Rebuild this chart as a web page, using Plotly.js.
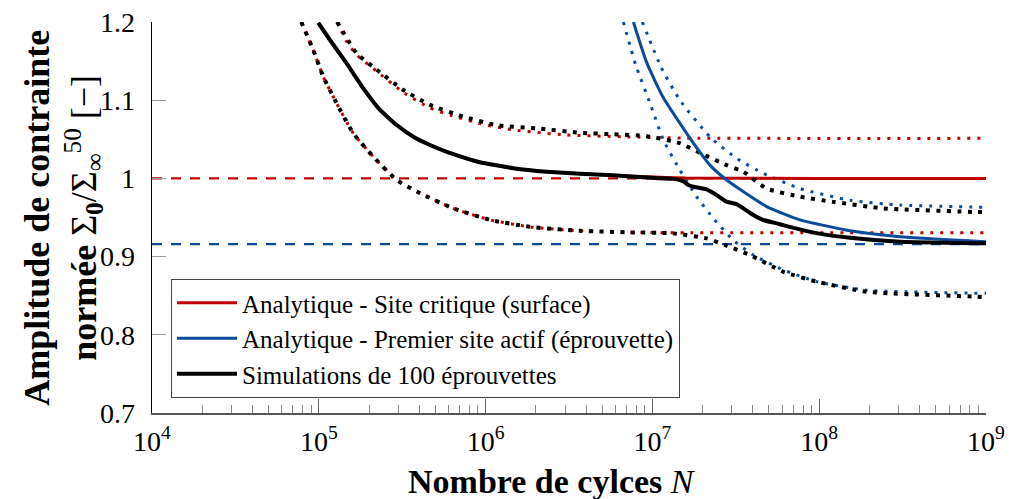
<!DOCTYPE html>
<html>
<head>
<meta charset="utf-8">
<script src="https://cdn.plot.ly/plotly-3.0.1.min.js"></script>
<style>html,body{margin:0;padding:0;background:#fff;}#chart{width:1010px;height:499px;}</style>
</head>
<body>
<div id="chart"></div>
<script>
// ---- Data (x given as log10 of number of cycles N) ----
// Analytique - Site critique (surface)
const redMedLogN   = [4.997, 5.067, 5.167, 5.267, 5.367, 5.467, 5.567, 5.667, 5.767, 5.866, 5.966, 6.166, 6.366, 6.566, 6.766, 6.966, 7.2, 8.0, 9.0];
const redMedY      = [1.199, 1.177, 1.147, 1.1152, 1.0875, 1.0683, 1.0533, 1.0427, 1.034, 1.027, 1.0206, 1.013, 1.0085, 1.006, 1.004, 1.002, 1.0005, 1.0, 1.0];
const redUpLogN    = [5.11, 5.167, 5.227, 5.347, 5.507, 5.667, 5.787, 5.966, 6.166, 6.486, 6.826, 7.2, 9.0];
const redUpY       = [1.2, 1.175, 1.158, 1.137, 1.11, 1.09, 1.081, 1.07, 1.062, 1.0555, 1.0533, 1.0515, 1.0512];
const redLowLogN   = [4.895, 4.967, 5.027, 5.107, 5.207, 5.327, 5.467, 5.607, 5.806, 6.026, 6.266, 6.566, 6.866, 7.2, 9.0];
const redLowY      = [1.2, 1.164, 1.13, 1.096, 1.0576, 1.0277, 0.998, 0.981, 0.9617, 0.947, 0.938, 0.933, 0.931, 0.9305, 0.9305];
const redAsymY     = 1.0;

// Analytique - Premier site actif (eprouvette)
const blueMedLogN  = [6.886, 6.966, 7.066, 7.246, 7.345, 7.445, 7.685, 7.885, 8.185, 8.484, 9.0];
const blueMedY     = [1.2, 1.148, 1.103, 1.045, 1.017, 0.998, 0.964, 0.947, 0.933, 0.9254, 0.919];
const blueUpLogN   = [6.94, 7.05, 7.165, 7.345, 7.505, 7.665, 7.885, 8.185, 8.484, 9.0];
const blueUpY      = [1.2, 1.143, 1.1, 1.053, 1.0256, 1.0065, 0.987, 0.972, 0.966, 0.963];
const blueLowLogN  = [6.826, 6.9, 6.986, 7.066, 7.165, 7.265, 7.365, 7.485, 7.605, 7.785, 7.985, 8.285, 9.0];
const blueLowY     = [1.2, 1.145, 1.096, 1.049, 1.0107, 0.9766, 0.949, 0.921, 0.902, 0.883, 0.868, 0.857, 0.853];
const blueAsymY    = 0.916;

// Simulations de 100 eprouvettes
const simMedLogN   = [4.997, 5.067, 5.167, 5.267, 5.367, 5.467, 5.567, 5.667, 5.767, 5.866, 5.966, 6.166, 6.366, 6.566, 6.766, 6.966, 7.125, 7.185, 7.215, 7.245, 7.325, 7.385, 7.445, 7.505, 7.545, 7.605, 7.665, 7.745, 7.805, 7.985, 8.185, 8.484, 9.0];
const simMedY      = [1.199, 1.177, 1.147, 1.1152, 1.0875, 1.0683, 1.0533, 1.0427, 1.034, 1.027, 1.0206, 1.013, 1.0085, 1.006, 1.004, 1.001, 0.9994, 0.9963, 0.9915, 0.9894, 0.986, 0.9787, 0.9702, 0.9672, 0.9617, 0.9532, 0.9468, 0.9425, 0.939, 0.930, 0.924, 0.919, 0.917];
const simUpLogN    = [5.11, 5.227, 5.347, 5.507, 5.667, 5.866, 6.066, 6.306, 6.566, 6.766, 6.966, 7.165, 7.3, 7.445, 7.545, 7.685, 7.885, 8.085, 8.384, 8.944, 9.0];
const simUpY       = [1.2, 1.16, 1.139, 1.113, 1.094, 1.079, 1.068, 1.064, 1.0584, 1.0564, 1.054, 1.045, 1.031, 1.017, 1.0085, 0.987, 0.9766, 0.970, 0.9617, 0.957, 0.957];
const simLowLogN   = [4.895, 4.967, 5.027, 5.107, 5.207, 5.327, 5.467, 5.607, 5.806, 6.026, 6.266, 6.566, 6.866, 7.125, 7.325, 7.445, 7.585, 7.785, 7.985, 8.285, 8.944, 9.0];
const simLowY      = [1.2, 1.164, 1.13, 1.096, 1.0576, 1.0277, 0.998, 0.981, 0.9617, 0.947, 0.938, 0.933, 0.931, 0.9297, 0.9233, 0.914, 0.902, 0.8806, 0.868, 0.855, 0.8487, 0.848];

// Axis ticks and texts
const xTickExp   = [4, 5, 6, 7, 8, 9];
const yTickVals  = [0.7, 0.8, 0.9, 1.0, 1.1, 1.2];
const yTickText  = ['0.7', '0.8', '0.9', '1', '1.1', '1.2'];
const legendNames = ['Analytique - Site critique (surface)', 'Analytique - Premier site actif (éprouvette)', 'Simulations de 100 éprouvettes'];
const xTitle = '<b>Nombre de cylces</b> <i>N</i>';
const yTitle = '<b>Amplitude de contrainte</b><br><b>normée</b> Σ<sub><b>0</b></sub>/Σ<sub>∞</sub><sup>50</sup> [−]';

// ---- Build ----
const RED = '#c00000', BLUE = '#0a4c99', BLACK = '#000000';
const toN = a => a.map(v => Math.pow(10, v));
const xFull = [Math.pow(10, xTickExp[0]), Math.pow(10, xTickExp[xTickExp.length - 1])];

function tr(logN, y, color, width, dash, name, show, smooth) {
  return {
    x: toN(logN), y: y, type: 'scatter', mode: 'lines',
    line: {color: color, width: width, dash: dash, shape: 'spline', smoothing: smooth == null ? 0.5 : smooth},
    name: name || '', showlegend: !!show, hoverinfo: 'skip'
  };
}
function hline(yv, color) {
  return {x: xFull, y: [yv, yv], type: 'scatter', mode: 'lines',
    line: {color: color, width: 2.2, dash: '10px,9px'}, showlegend: false, hoverinfo: 'skip'};
}

const data = [
  hline(redAsymY, RED),
  hline(blueAsymY, BLUE),
  tr(redUpLogN, redUpY, RED, 3, '3px,7px'),
  tr(redLowLogN, redLowY, RED, 3, '3px,7px'),
  tr(blueUpLogN, blueUpY, BLUE, 3, '3px,7px'),
  tr(blueLowLogN, blueLowY, BLUE, 3, '3px,7px'),
  tr(redMedLogN, redMedY, RED, 3, 'solid', legendNames[0], true, 0.35),
  tr(simUpLogN, simUpY, BLACK, 4, '4px,6.5px'),
  tr(simLowLogN, simLowY, BLACK, 4, '4px,6.5px'),
  tr(blueMedLogN, blueMedY, BLUE, 3, 'solid', legendNames[1], true),
  tr(simMedLogN, simMedY, BLACK, 4, 'solid', legendNames[2], true, 0.35)
];

const minorVals = [];
for (let e = xTickExp[0]; e < xTickExp[xTickExp.length - 1]; e++) {
  for (let d = 2; d <= 9; d++) minorVals.push(d * Math.pow(10, e));
}

const FONT = 'Liberation Serif';
const layout = {
  width: 1010, height: 499,
  margin: {l: 152, r: 24, t: 22, b: 86},
  paper_bgcolor: '#fff', plot_bgcolor: '#fff',
  font: {family: FONT, color: '#000'},
  showlegend: true,
  xaxis: {
    type: 'log', range: [xTickExp[0], xTickExp[xTickExp.length - 1]],
    tickmode: 'array', tickvals: toN(xTickExp),
    ticktext: xTickExp.map(e => '10<sup>' + e + '</sup>'),
    ticks: 'inside', ticklen: 14, tickwidth: 1, tickcolor: '#666',
    minor: {tickmode: 'array', tickvals: minorVals, ticks: 'inside', ticklen: 8, tickwidth: 1, tickcolor: '#888', showgrid: false},
    showline: true, linecolor: '#555', linewidth: 2,
    showgrid: false, zeroline: false,
    tickfont: {size: 28, family: FONT, color: '#000'},
    ticklabelstandoff: 2
  },
  yaxis: {
    range: [0.7, 1.2],
    tickmode: 'array', tickvals: yTickVals, ticktext: yTickText,
    ticks: 'inside', ticklen: 14, tickwidth: 1, tickcolor: '#999',
    showline: true, linecolor: '#000', linewidth: 1.5,
    showgrid: false, zeroline: false,
    tickfont: {size: 28, family: FONT, color: '#000'},
    ticklabelstandoff: 10
  },
  annotations: [
    {
      text: xTitle, xref: 'paper', yref: 'paper', x: 0.48, y: -0.174,
      xanchor: 'center', yanchor: 'middle', showarrow: false,
      font: {size: 34, family: FONT, color: '#000'}
    },
    {
      text: yTitle, xref: 'paper', yref: 'paper', x: -0.1075, y: 0.5,
      xanchor: 'center', yanchor: 'middle', showarrow: false, textangle: -90,
      font: {size: 36, family: FONT, color: '#000'}
    }
  ],
  legend: {
    x: 0.0228, y: 0.3427, xanchor: 'left', yanchor: 'top',
    bgcolor: '#fff', bordercolor: '#444', borderwidth: 1,
    font: {size: 25, family: FONT, color: '#000'},
    traceorder: 'normal', itemwidth: 60
  }
};

Plotly.newPlot('chart', data, layout, {staticPlot: true, displayModeBar: false});
</script>
</body>
</html>
